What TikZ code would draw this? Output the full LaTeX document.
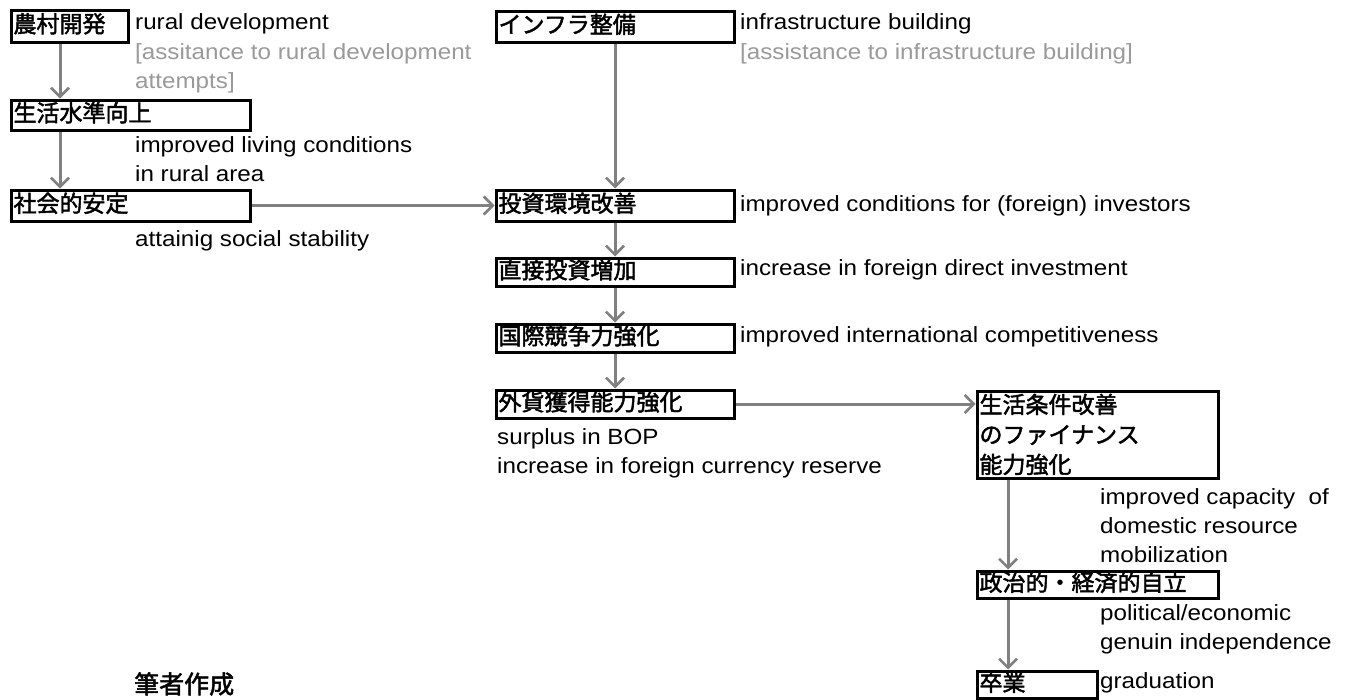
\documentclass[tikz,border=0pt]{standalone}
\usepackage{fontspec}
\setmainfont{Liberation Sans}[FakeStretch=1.1]
\newfontfamily\jp{Noto Sans CJK JP}[FakeBold=2]
\usetikzlibrary{arrows.meta,calc}
\definecolor{arrgray}{HTML}{808080}
\definecolor{greytxt}{HTML}{9A9A9A}
\tikzset{
  boxbase/.style={draw, line width=3pt, anchor=north west, inner xsep=2.5pt, inner ysep=0pt,
    font=\jp\fontsize{23}{30}\selectfont, align=left},
  box/.style={boxbase, text height=18pt, text depth=5pt},
  lbl/.style={anchor=west, inner sep=0pt, font=\fontsize{22}{29}\selectfont, align=left},
  greylbl/.style={lbl, text=greytxt},
  arr/.style={draw=arrgray, line width=3pt,
    -{Straight Barb[length=9pt,width=18pt,line width=2.5pt]}}
}
\begin{document}
\begin{tikzpicture}[x=1pt,y=-1pt]
\useasboundingbox[fill=white] (0,0) rectangle (1347,699);
% boxes
\node[box, text width=112pt, minimum height=32pt] (A) at (9.5,8.5) {農村開発};
\node[box, text width=234pt, minimum height=30pt] (B) at (9.5,98.5) {生活水準向上};
\node[box, text width=234pt, minimum height=31pt] (C) at (9.5,188.5) {社会的安定};
\node[box, text width=233pt, minimum height=31pt] (D) at (494.5,9.5) {インフラ整備};
\node[box, text width=233pt, minimum height=31pt] (E) at (494.5,188.5) {投資環境改善};
\node[box, text width=233pt, minimum height=28pt] (F) at (494.5,256.5) {直接投資増加};
\node[box, text width=233pt, minimum height=28pt] (G) at (494.5,322.5) {国際競争力強化};
\node[box, text width=233pt, minimum height=28pt] (H) at (494.5,388.5) {外貨獲得能力強化};
\node[boxbase, text width=236pt, minimum height=87pt] (I) at (975.5,389.5) {生活条件改善\\のファイナンス\\能力強化};
\node[box, text width=236pt, minimum height=27pt] (J) at (975.5,569.5) {政治的・経済的自立};
\node[box, text width=115pt, minimum height=27pt] (K) at (975.5,669.5) {卒業};
% labels
\node[lbl] (tA) at (135,24) {rural development};
\node[greylbl] (tA2) at (135,68) {[assitance to rural development\\attempts]};
\node[lbl] (tB) at (135,159) {improved living conditions\\in rural area};
\node[lbl] (tC) at (135,241) {attainig social stability};
\node[lbl] (tD) at (740,24) {infrastructure building};
\node[greylbl] (tD2) at (740,54) {[assistance to infrastructure building]};
\node[lbl] (tE) at (740,206) {improved conditions for (foreign) investors};
\node[lbl] (tF) at (740,270) {increase in foreign direct investment};
\node[lbl] (tG) at (740,337) {improved international competitiveness};
\node[lbl] (tH) at (497,453) {surplus in BOP\\increase in foreign currency reserve};
\node[lbl] (tI) at (1100,525.5) {improved capacity\ \ of\\domestic resource\\mobilization};
\node[lbl] (tJ) at (1100,629.5) {political/economic\\genuin independence};
\node[lbl] (tK) at (1100,683) {graduation};
\node[lbl, font=\jp\fontsize{25}{30}\selectfont] (src) at (134,684) {筆者作成};
% arrows
\draw[arr] ([xshift=50.5pt]A.south west) -- ([xshift=50.5pt]B.north west);
\draw[arr] ([xshift=50.5pt]B.south west) -- ([xshift=50.5pt]C.north west);
\draw[arr] (C.east) -- (E.west);
\draw[arr] (D.south) -- (E.north);
\draw[arr] (E.south) -- (F.north);
\draw[arr] (F.south) -- (G.north);
\draw[arr] (G.south) -- (H.north);
\draw[arr] (H.east) -- (H.east -| I.west);
\draw[arr] ([xshift=32.5pt]I.south west) -- ([xshift=32.5pt]J.north west);
\draw[arr] ([xshift=32.5pt]J.south west) -- ([xshift=32.5pt]K.north west);
\end{tikzpicture}
\end{document}
